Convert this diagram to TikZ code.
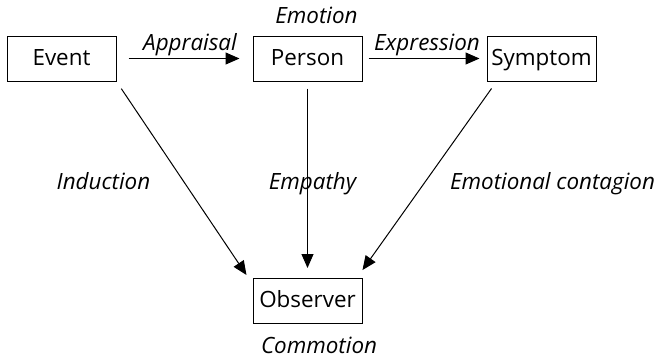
\documentclass[tikz,border=0pt]{standalone}
\usepackage{fontspec}
\setmainfont{Open Sans}
\usetikzlibrary{arrows.meta,calc}
\begin{document}
\begin{tikzpicture}[x=0.5pt,y=-0.5pt,
  box/.style={draw,line width=0.5pt,minimum width=54.5pt,minimum height=22.5pt,inner sep=0pt,
    text height=8pt,text depth=1.5pt,font=\fontsize{11.2}{13}\selectfont},
  lbl/.style={font=\fontsize{11.2}{13}\selectfont\itshape,inner sep=0pt,anchor=base},
  arr/.style={line width=0.5pt,-{Triangle[length=7pt,width=6pt]}}]
\useasboundingbox (0,0) rectangle (658,360);
\node[box] (ev) at (61.5,58.5) {Event};
\node[box] (pe) at (307.5,58.5) {Person};
\node[box] (sy) at (541.5,58.5) {Symptom};
\node[box] (ob) at (307.5,301) {Observer};
\draw[arr,shorten <=6pt,shorten >=6.5pt] (ev) -- (pe);
\draw[arr,shorten <=3pt,shorten >=3.5pt] (pe) -- (sy);
\draw[arr,shorten <=3.5pt,shorten >=5pt] (pe) -- (ob);
\draw[arr,shorten <=4.3pt,shorten >=1.8pt] (ev.south east) -- ($(ob.north west)+(-4,0)$);
\draw[arr,shorten <=4.3pt,shorten >=4.9pt] ($(sy.south west)+(10,0)$) -- ($(ob.north east)+(-5.7,0)$);
\node[lbl] (emo) at (316.5,23) {Emotion};
\node[lbl] (app) at (190,50) {Appraisal};
\node[lbl] (exp) at (427,50) {Expression};
\node[lbl] (ind) at (103.5,189) {Induction};
\node[lbl] (emp) at (312.5,189) {Empathy};
\node[lbl] (con) at (552.5,189) {Emotional contagion};
\node[lbl] (com) at (319,353) {Commotion};
\end{tikzpicture}
\end{document}
